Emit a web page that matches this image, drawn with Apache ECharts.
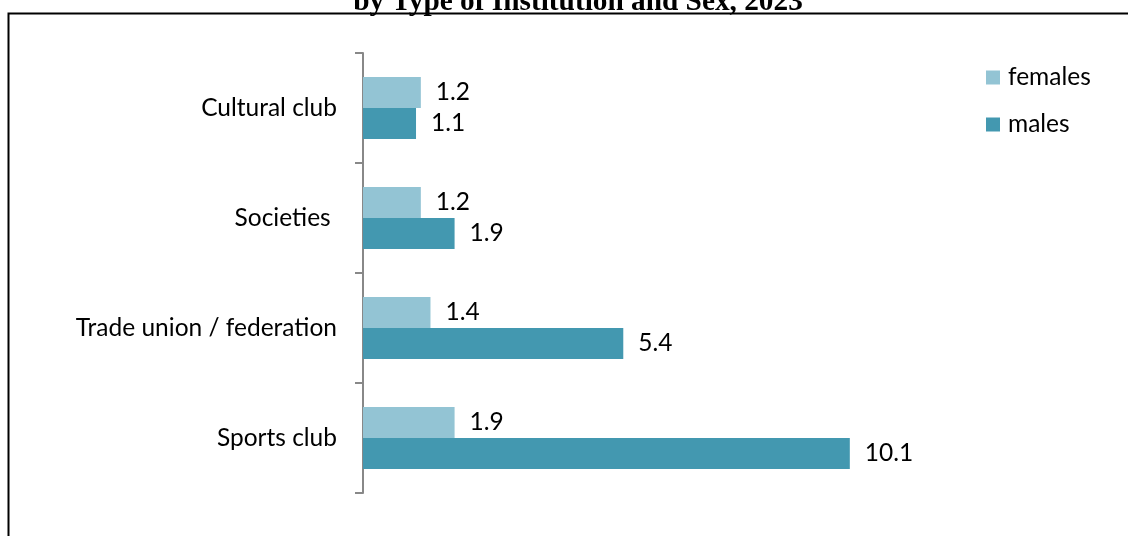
<!DOCTYPE html>
<html><head><meta charset="utf-8">
<script src="https://cdn.jsdelivr.net/npm/echarts@6/dist/echarts.min.js"></script>
<style>html,body{margin:0;padding:0;background:#fff}#c{width:1128px;height:536px}</style>
</head><body><div id="c"></div>
<script>
const titleText = 'by Type of Institution and Sex, 2023';
const categories = ['Cultural club', 'Societies ', 'Trade union / federation', 'Sports club'];
const females = [1.2, 1.2, 1.4, 1.9];
const males = [1.1, 1.9, 5.4, 10.1];
const seriesNames = ['females', 'males'];

const chart = echarts.init(document.getElementById('c'), null, {renderer: 'canvas'});
const FONT = 'Lato';
const FS = 24.5;
chart.setOption({
  animation: false,
  backgroundColor: '#fff',
  graphic: [
    {type: 'rect', shape: {x: 8.5, y: 13.5, width: 1300, height: 700}, style: {fill: 'none', stroke: '#000', lineWidth: 2}, z: 0},
    {type: 'text', x: 578, y: 17, style: {text: titleText, font: 'bold 29.3px "Liberation Serif"', fill: '#000', textAlign: 'center', textVerticalAlign: 'bottom'}, z: 10}
  ],
  legend: {
    orient: 'vertical', left: 981, top: 60, icon: 'rect', itemWidth: 14, itemHeight: 14, itemGap: 22,
    textStyle: {fontFamily: FONT, fontSize: FS, color: '#000', padding: [0, 0, 0, 3]},
    data: seriesNames
  },
  grid: {left: 363, top: 53, width: 578.4, height: 440, containLabel: false},
  xAxis: {type: 'value', min: 0, max: 12, show: false},
  yAxis: {
    type: 'category', inverse: true, data: categories,
    axisLine: {show: true, lineStyle: {color: '#888', width: 2}},
    axisTick: {show: true, length: 8, lineStyle: {color: '#888', width: 2}},
    axisLabel: {margin: 26, fontFamily: FONT, fontSize: FS, color: '#000'}
  },
  series: [
    {name: seriesNames[0], type: 'bar', data: females, barWidth: 31, barGap: '0%', itemStyle: {color: '#93c4d4'},
     label: {show: true, position: 'right', distance: 15, fontFamily: FONT, fontSize: FS, color: '#000'}},
    {name: seriesNames[1], type: 'bar', data: males, barWidth: 31, barGap: '0%', itemStyle: {color: '#4398b0'},
     label: {show: true, position: 'right', distance: 15, fontFamily: FONT, fontSize: FS, color: '#000'}}
  ]
});
</script></body></html>
